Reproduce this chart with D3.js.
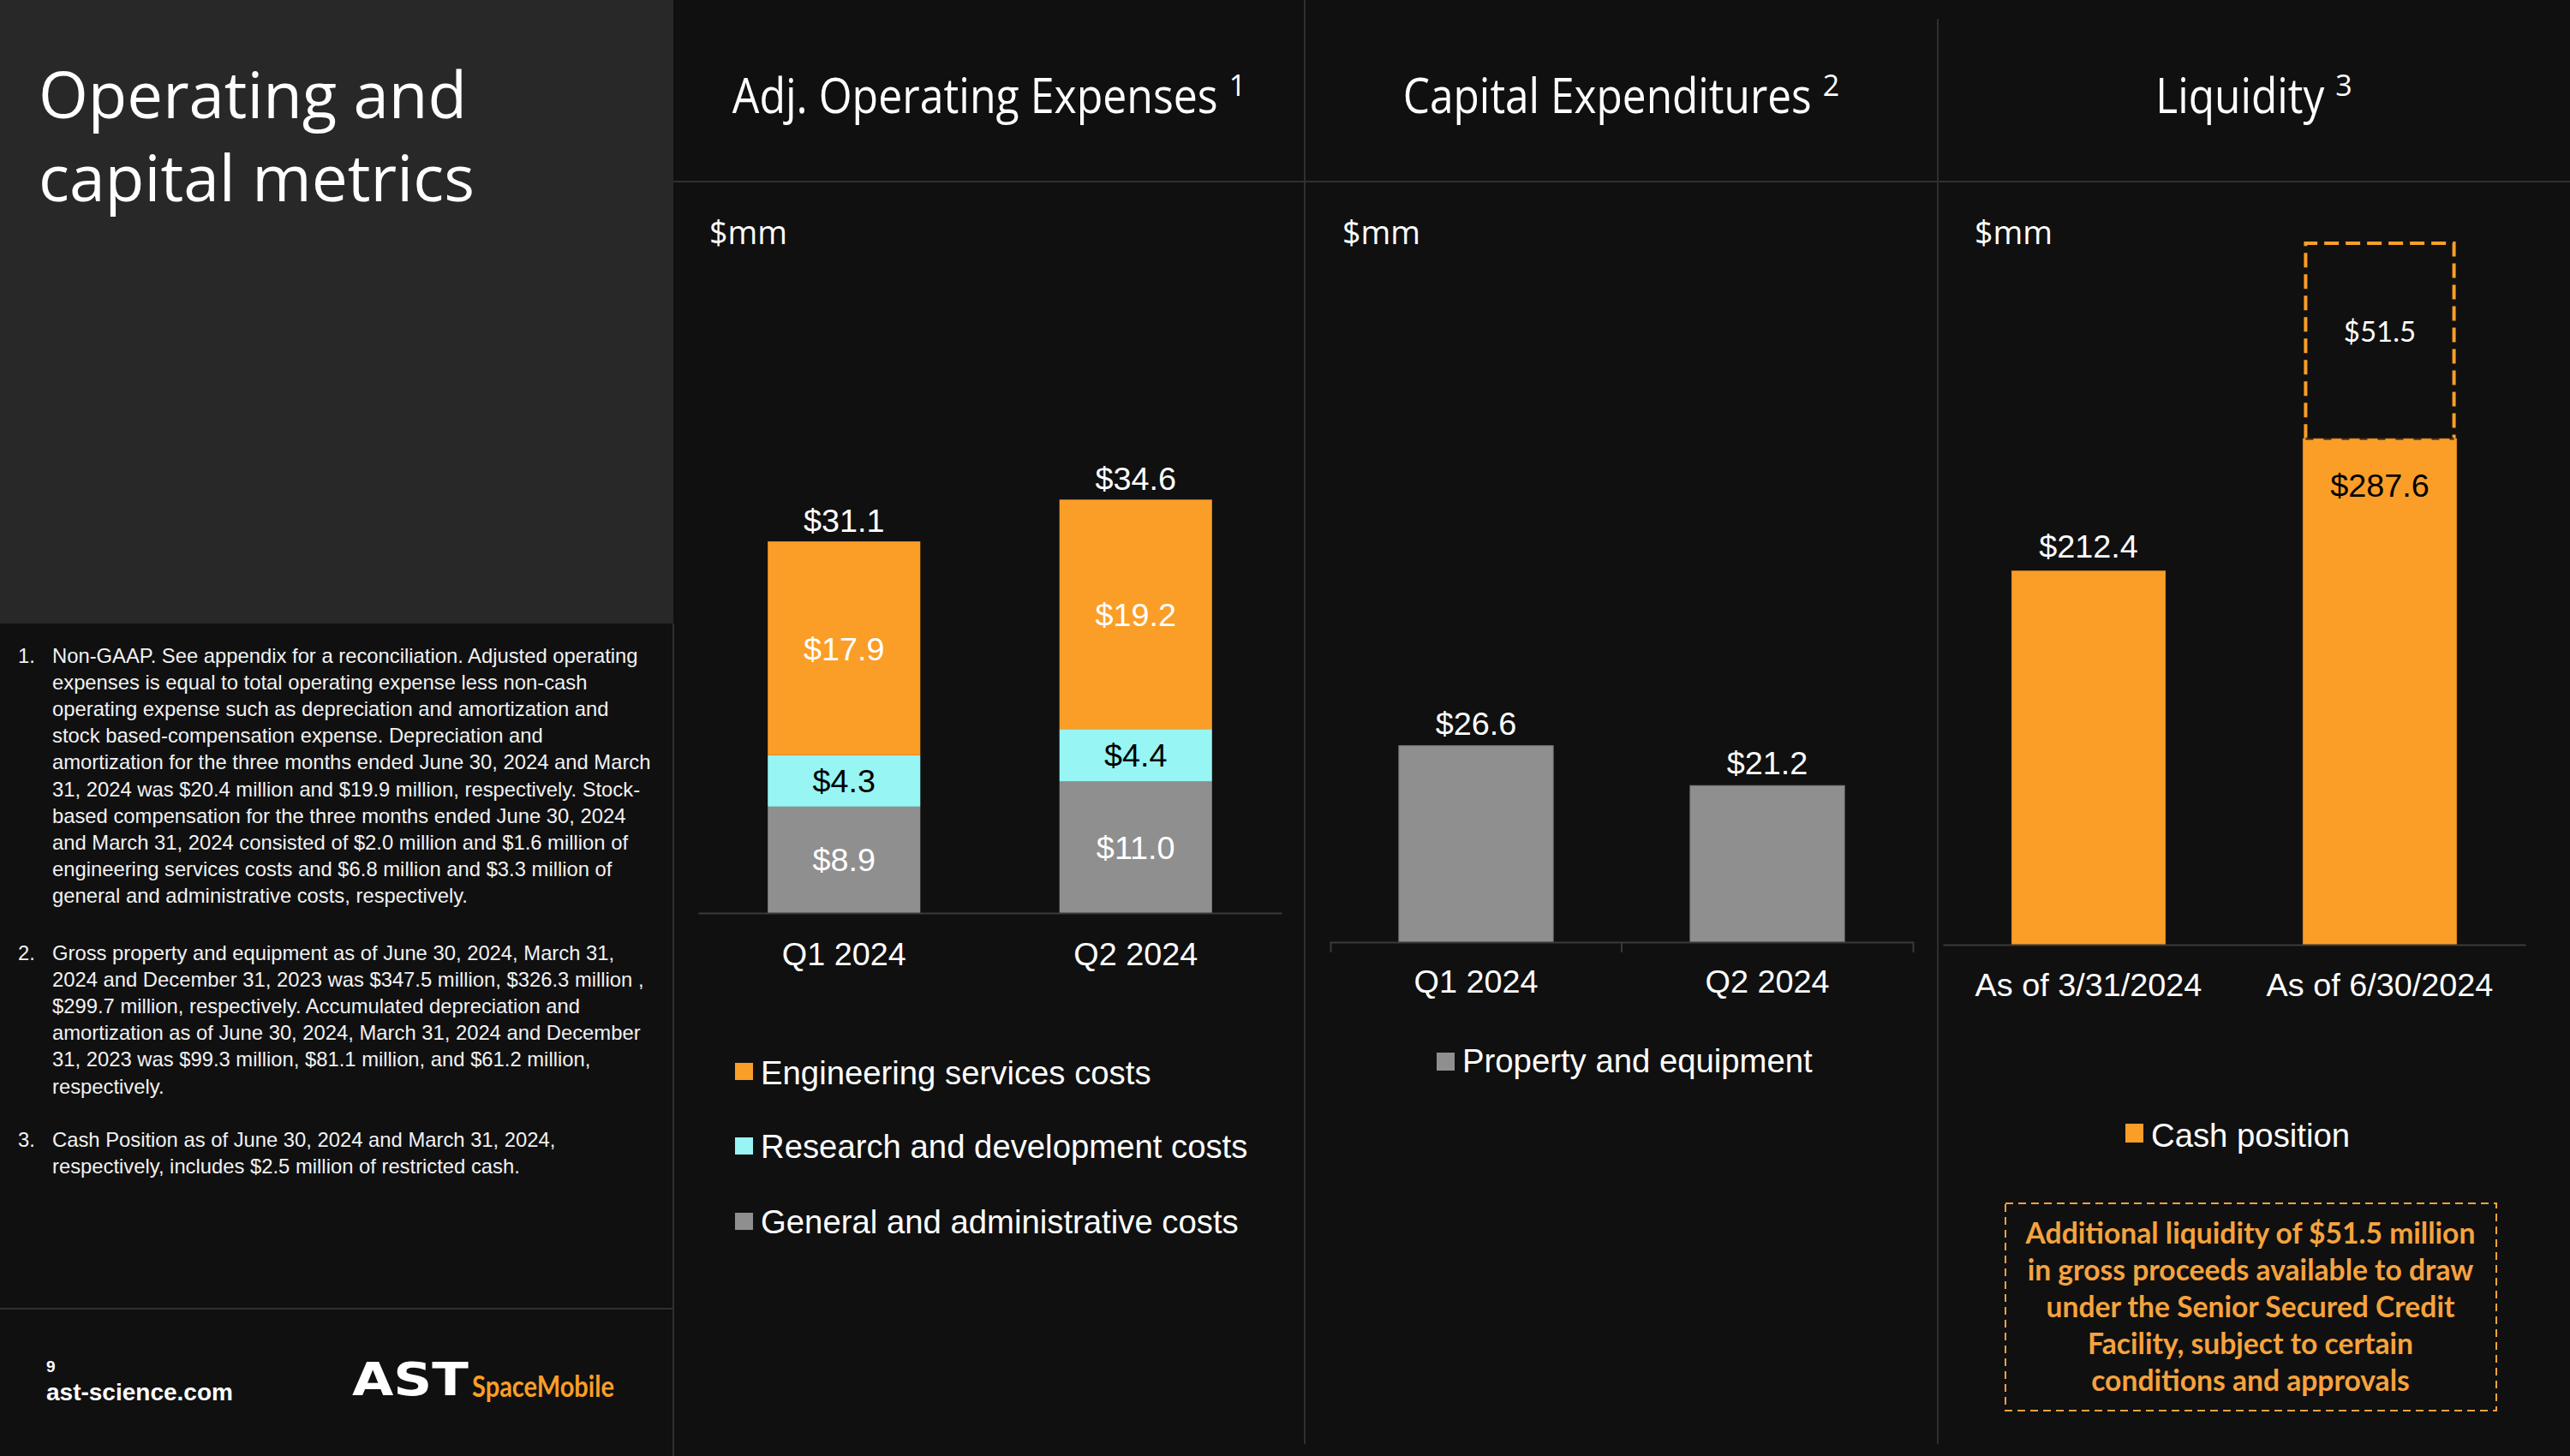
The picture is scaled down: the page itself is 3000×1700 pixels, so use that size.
<!DOCTYPE html>
<html>
<head>
<meta charset="utf-8">
<script src="https://cdn.jsdelivr.net/npm/d3@7"></script>
<style>
html,body{margin:0;padding:0;background:#101010;}
svg{display:block;}
</style>
</head>
<body>
<div id="chart"></div>
<script>
// ---------------- DATA ----------------
const opexCategories = ["Q1 2024", "Q2 2024"];
const opexSeriesNames = ["Engineering services costs", "Research and development costs", "General and administrative costs"];
const engineeringCosts = [17.9, 19.2];
const researchCosts = [4.3, 4.4];
const generalAdminCosts = [8.9, 11.0];
const opexTotals = [31.1, 34.6];

const capexCategories = ["Q1 2024", "Q2 2024"];
const capexSeriesName = "Property and equipment";
const capexValues = [26.6, 21.2];

const liquidityCategories = ["As of 3/31/2024", "As of 6/30/2024"];
const liquiditySeriesName = "Cash position";
const cashPosition = [212.4, 287.6];
const additionalLiquidity = [null, 51.5];

const titleLines = ["Operating and", "capital metrics"];
const chartTitles = [
  {text: "Adj. Operating Expenses", sup: "1"},
  {text: "Capital Expenditures", sup: "2"},
  {text: "Liquidity", sup: "3"}
];
const unitLabel = "$mm";
const footnotes = [
  {num: "1.", lines: [
    "Non-GAAP. See appendix for a reconciliation. Adjusted operating",
    "expenses is equal to total operating expense less non-cash",
    "operating expense such as depreciation and amortization and",
    "stock based-compensation expense. Depreciation and",
    "amortization for the three months ended June 30, 2024 and March",
    "31, 2024 was $20.4 million and $19.9 million, respectively. Stock-",
    "based compensation for the three months ended June 30, 2024",
    "and March 31, 2024 consisted of $2.0 million and $1.6 million of",
    "engineering services costs and $6.8 million and $3.3 million of",
    "general and administrative costs, respectively."]},
  {num: "2.", lines: [
    "Gross property and equipment as of June 30, 2024, March 31,",
    "2024 and December 31, 2023 was $347.5 million, $326.3 million ,",
    "$299.7 million, respectively. Accumulated depreciation and",
    "amortization as of June 30, 2024, March 31, 2024 and December",
    "31, 2023 was $99.3 million, $81.1 million, and $61.2 million,",
    "respectively."]},
  {num: "3.", lines: [
    "Cash Position as of June 30, 2024 and March 31, 2024,",
    "respectively, includes $2.5 million of restricted cash."]}
];
const calloutLines = [
  "Additional liquidity of $51.5 million",
  "in gross proceeds available to draw",
  "under the Senior Secured Credit",
  "Facility, subject to certain",
  "conditions and approvals"
];
const pageNumber = "9";
const siteText = "ast-science.com";

// ---------------- STYLE ----------------
const W = 3000, H = 1700;
const C = {
  bg: "#101010", panel: "#282828", line: "#2f2f2f", axis: "#3a3a3a",
  orange: "#FA9E28", cyan: "#97F5F3", gray: "#8F8F8F", text: "#FFFFFF",
  callout: "#F5A33E"
};
const FONT_SANS = "'Liberation Sans', Arial, sans-serif";
const FONT_TITLE = "'Open Sans', 'Noto Sans', sans-serif";
const FONT_CAL = "Lato, 'Open Sans', sans-serif";
const LABEL_SIZE = 37.8;
const LEGEND_SIZE = 38.3;
const numFmt = v => "$" + d3.format(".1f")(v);

const svg = d3.select("#chart").append("svg")
  .attr("width", W).attr("height", H).attr("viewBox", `0 0 ${W} ${H}`);

svg.append("rect").attr("width", W).attr("height", H).attr("fill", C.bg);
svg.append("rect").attr("x", 0).attr("y", 0).attr("width", 786).attr("height", 728).attr("fill", C.panel);

// divider lines
const dividers = [
  {x1: 786, y1: 728, x2: 786, y2: 1700},
  {x1: 1523, y1: 0, x2: 1523, y2: 1686},
  {x1: 2262, y1: 22, x2: 2262, y2: 1686},
  {x1: 786, y1: 212, x2: 3000, y2: 212},
  {x1: 0, y1: 1528, x2: 786, y2: 1528}
];
svg.selectAll("line.div").data(dividers).enter().append("line")
  .attr("class", "div")
  .attr("x1", d => d.x1).attr("y1", d => d.y1).attr("x2", d => d.x2).attr("y2", d => d.y2)
  .attr("stroke", C.line).attr("stroke-width", 2);

// draw a text horizontally scaled to a target width (keeps the real bbox accurate)
function scaledText(parent, str, x, y, target, attrs) {
  const t = parent.append("text").text(str);
  Object.entries(attrs).forEach(([k, v]) => t.attr(k, v));
  const w = t.node().getComputedTextLength();
  const sx = target / w;
  t.attr("transform", `translate(${x},${y}) scale(${sx},1)`);
  return t;
}

// ---------------- LEFT PANEL ----------------
const titleWidths = [500, 509];
titleLines.forEach((t, i) => {
  scaledText(svg, t, 45, 138 + i * 97, titleWidths[i],
    {"font-family": FONT_TITLE, "font-size": 75, "fill": C.text});
});

const fnG = svg.append("g").attr("font-family", FONT_SANS).attr("font-size", 23.8).attr("fill", "#F2F2F2");
const fnStarts = [774, 1121, 1339];
footnotes.forEach((f, i) => {
  fnG.append("text").attr("x", 21).attr("y", fnStarts[i]).text(f.num);
  f.lines.forEach((l, j) => {
    fnG.append("text").attr("x", 61).attr("y", fnStarts[i] + j * 31.1).text(l);
  });
});

svg.append("text").attr("x", 54).attr("y", 1602).attr("font-family", FONT_SANS)
  .attr("font-weight", "bold").attr("font-size", 19).attr("fill", C.text).text(pageNumber);
svg.append("text").attr("x", 54).attr("y", 1635).attr("font-family", FONT_SANS)
  .attr("font-weight", "bold").attr("font-size", 28).attr("fill", C.text).text(siteText);

// logo
scaledText(svg, "AST", 411, 1629, 136,
  {"font-family": "'DejaVu Sans', sans-serif", "font-weight": "bold", "font-size": 54, "fill": C.text});
scaledText(svg, "SpaceMobile", 551, 1631, 166,
  {"font-family": FONT_CAL, "font-weight": "bold", "font-size": 35, "fill": C.orange});

// ---------------- CHART TITLES ----------------
const titleCenters = [1154.5, 1892.5, 2631];
const titleTargets = [567, 477, 197];
chartTitles.forEach((t, i) => {
  const sup = svg.append("text").attr("font-family", FONT_TITLE).attr("font-size", 34)
    .attr("fill", C.text).attr("y", 112).text(t.sup);
  const supW = sup.node().getComputedTextLength();
  const gap = 13;
  const total = titleTargets[i] + gap + supW;
  const x0 = titleCenters[i] - total / 2;
  scaledText(svg, t.text, x0, 132, titleTargets[i],
    {"font-family": FONT_TITLE, "font-size": 56, "fill": C.text});
  sup.attr("x", x0 + titleTargets[i] + gap);
});

// unit labels
[828, 1567, 2305].forEach(x => {
  svg.append("text").attr("x", x).attr("y", 285).attr("font-family", FONT_TITLE)
    .attr("font-size", 37.5).attr("fill", C.text).text(unitLabel);
});

function styleAxis(g) {
  g.select(".domain").attr("stroke", C.axis).attr("stroke-width", 2);
  g.selectAll(".tick line").remove();
  g.selectAll(".tick text").attr("font-family", FONT_SANS).attr("font-size", LABEL_SIZE).attr("fill", C.text);
}

function legendItem(x, ySq, sqH, yText, color, label) {
  svg.append("rect").attr("x", x).attr("y", ySq).attr("width", 21).attr("height", sqH).attr("fill", color);
  svg.append("text").attr("x", x + 30).attr("y", yText).attr("font-family", FONT_SANS)
    .attr("font-size", LEGEND_SIZE).attr("fill", C.text).text(label);
}

// ---------------- CHART 1: Adj. Operating Expenses ----------------
{
  const x = d3.scaleBand().domain(opexCategories).range([815, 1496]).paddingInner(0.477).paddingOuter(0.2385);
  const y = d3.scaleLinear().domain([0, 40]).range([1066, 1066 - 40 * 13.95]);
  const rows = opexCategories.map((c, i) => ({cat: c, ga: generalAdminCosts[i], rd: researchCosts[i], eng: engineeringCosts[i], total: opexTotals[i]}));
  const keys = ["ga", "rd", "eng"];
  const colors = {ga: C.gray, rd: C.cyan, eng: C.orange};
  const labelColors = {ga: "#FFFFFF", rd: "#000000", eng: "#FFFFFF"};
  const stacked = d3.stack().keys(keys)(rows);
  const g = svg.append("g");
  stacked.forEach(layer => {
    g.selectAll(null).data(layer).enter().append("rect")
      .attr("x", d => x(d.data.cat)).attr("width", x.bandwidth())
      .attr("y", d => y(d[1])).attr("height", d => y(d[0]) - y(d[1]))
      .attr("fill", colors[layer.key]);
    g.selectAll(null).data(layer).enter().append("text")
      .attr("x", d => x(d.data.cat) + x.bandwidth() / 2)
      .attr("y", d => (y(d[0]) + y(d[1])) / 2 + 13.5)
      .attr("text-anchor", "middle").attr("font-family", FONT_SANS).attr("font-size", LABEL_SIZE)
      .attr("fill", labelColors[layer.key]).text(d => numFmt(d.data[layer.key]));
  });
  g.selectAll(null).data(rows).enter().append("text")
    .attr("x", d => x(d.cat) + x.bandwidth() / 2).attr("y", d => y(d.total) - 11)
    .attr("text-anchor", "middle").attr("font-family", FONT_SANS).attr("font-size", LABEL_SIZE)
    .attr("fill", C.text).text(d => numFmt(d.total));
  const ax = svg.append("g").attr("transform", `translate(0,${y(0)})`)
    .call(d3.axisBottom(x).tickSize(0).tickPadding(34));
  styleAxis(ax);
  const legendColors = [C.orange, C.cyan, C.gray];
  const ySq = [1241, 1328, 1416], yTx = [1266, 1352, 1440];
  opexSeriesNames.forEach((n, i) => legendItem(858, ySq[i], 20, yTx[i], legendColors[i], n));
}

// ---------------- CHART 2: Capital Expenditures ----------------
{
  const x = d3.scaleBand().domain(capexCategories).range([1553, 2233]).paddingInner(0.47).paddingOuter(0.235);
  const y = d3.scaleLinear().domain([0, 60]).range([1100, 1100 - 60 * 8.62]);
  const g = svg.append("g");
  g.selectAll(null).data(capexValues).enter().append("rect")
    .attr("x", (d, i) => x(capexCategories[i])).attr("width", x.bandwidth())
    .attr("y", d => y(d)).attr("height", d => y(0) - y(d))
    .attr("fill", C.gray).attr("stroke", "#7a7a7a").attr("stroke-width", 1);
  g.selectAll(null).data(capexValues).enter().append("text")
    .attr("x", (d, i) => x(capexCategories[i]) + x.bandwidth() / 2).attr("y", d => y(d) - 13)
    .attr("text-anchor", "middle").attr("font-family", FONT_SANS).attr("font-size", LABEL_SIZE)
    .attr("fill", C.text).text(d => numFmt(d));
  const ax = svg.append("g").attr("transform", `translate(0,${y(0)})`)
    .call(d3.axisBottom(x).tickSizeInner(0).tickSizeOuter(12).tickPadding(32));
  styleAxis(ax);
  // category boundary tick
  const bx = x(capexCategories[1]) - x.step() * x.paddingInner() / 2;
  svg.append("line").attr("x1", bx).attr("x2", bx).attr("y1", y(0)).attr("y2", y(0) + 12)
    .attr("stroke", C.axis).attr("stroke-width", 2);
  legendItem(1677, 1229, 21, 1252, C.gray, capexSeriesName);
}

// ---------------- CHART 3: Liquidity ----------------
{
  const x = d3.scaleBand().domain(liquidityCategories).range([2268, 2948]).paddingInner(0.473).paddingOuter(0.2365);
  const y = d3.scaleLinear().domain([0, 400]).range([1103, 1103 - 400 * 2.054]);
  const g = svg.append("g");
  g.selectAll(null).data(cashPosition).enter().append("rect")
    .attr("x", (d, i) => x(liquidityCategories[i])).attr("width", x.bandwidth())
    .attr("y", d => y(d)).attr("height", d => y(0) - y(d))
    .attr("fill", C.orange).attr("stroke", "#E08A1E").attr("stroke-width", 1);
  g.selectAll(null).data(cashPosition).enter().append("text")
    .attr("x", (d, i) => x(liquidityCategories[i]) + x.bandwidth() / 2)
    .attr("y", (d, i) => additionalLiquidity[i] == null ? y(d) - 16 : y(d) + 68)
    .attr("text-anchor", "middle").attr("font-family", FONT_SANS).attr("font-size", LABEL_SIZE)
    .attr("fill", (d, i) => additionalLiquidity[i] == null ? C.text : "#000000")
    .text(d => numFmt(d));
  // dashed additional liquidity box (illustrative, not to scale)
  const boxTop = 284;
  additionalLiquidity.forEach((v, i) => {
    if (v == null) return;
    const bx = x(liquidityCategories[i]) + 3, bw = x.bandwidth() - 6;
    const by = y(cashPosition[i]);
    g.append("path")
      .attr("d", `M${bx},${by} V${boxTop} H${bx + bw} V${by}`)
      .attr("fill", "none").attr("stroke", C.orange).attr("stroke-width", 4)
      .attr("stroke-dasharray", "17,8");
    g.append("line").attr("x1", bx).attr("x2", bx + bw).attr("y1", by).attr("y2", by)
      .attr("stroke", "#111").attr("stroke-width", 3).attr("stroke-dasharray", "9,12").attr("opacity", 0.7);
    g.append("text").attr("x", bx + bw / 2).attr("y", (boxTop + by) / 2 - 12)
      .attr("text-anchor", "middle").attr("dominant-baseline", "central")
      .attr("font-family", FONT_CAL).attr("font-size", 33).attr("fill", C.text).text(numFmt(v));
  });
  const ax = svg.append("g").attr("transform", `translate(0,${y(0)})`)
    .call(d3.axisBottom(x).tickSize(0).tickPadding(33));
  styleAxis(ax);
  legendItem(2481, 1312, 22, 1339, C.orange, liquiditySeriesName);

  // callout box
  svg.append("rect").attr("x", 2341).attr("y", 1405).attr("width", 573).attr("height", 242)
    .attr("fill", "none").attr("stroke", C.callout).attr("stroke-width", 2).attr("stroke-dasharray", "9,6");
  const cg = svg.append("g").attr("font-family", FONT_CAL).attr("font-weight", "bold").attr("fill", C.callout).attr("text-anchor", "middle");
  const probe = cg.append("text").attr("font-size", 30).text(calloutLines[0]);
  const fs = 30 * 525 / probe.node().getComputedTextLength();
  probe.remove();
  calloutLines.forEach((l, i) => {
    cg.append("text").attr("x", 2627).attr("y", 1452 + i * 43).attr("font-size", fs).text(l);
  });
}
</script>
</body>
</html>
